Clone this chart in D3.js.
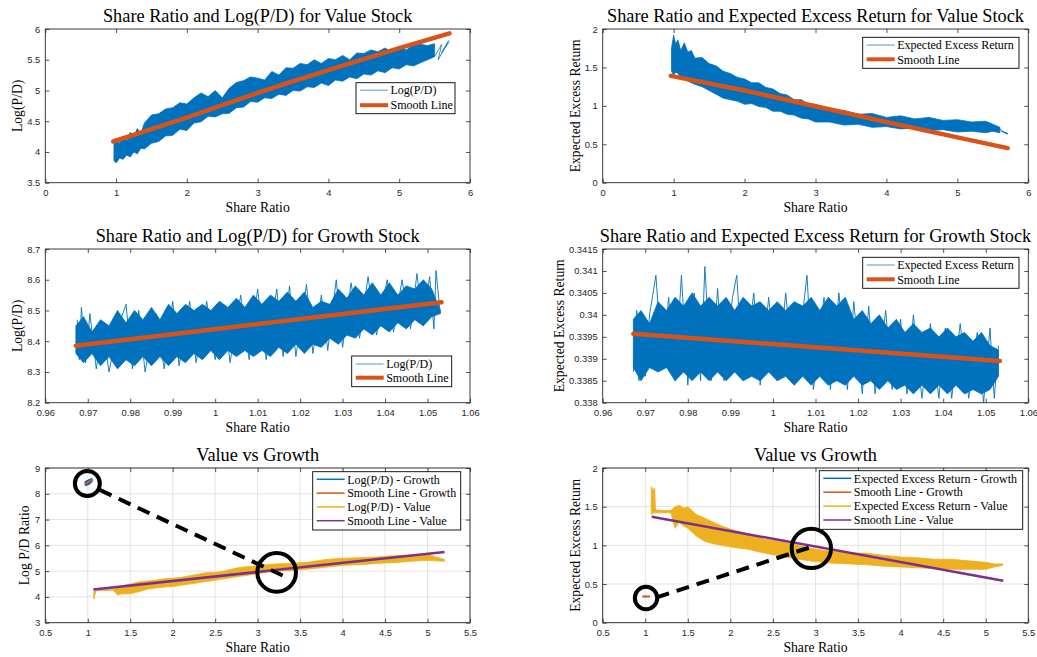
<!DOCTYPE html>
<html>
<head>
<meta charset="utf-8">
<script src="https://cdn.jsdelivr.net/npm/d3@7"></script>
<style>
body { margin: 0; background: #fff; }
svg { display: block; }
.tick text { font-family: "Liberation Sans", Arial, sans-serif; font-size: 9.4px; fill: #262626; }
.tick line { stroke: #262626; stroke-width: 0.8; }
.serif { font-family: "Liberation Serif", "Times New Roman", serif; fill: #000; }
</style>
</head>
<body>
<svg id="chart" width="1037" height="657"></svg>
<script>
// ---- data ----

// value stock, Log(P/D) band (top left)
const valPdX  = [0.97,1.0,1.05,1.1,1.15,1.2,1.25,1.3,1.35,1.4,1.5,1.6,1.7,1.8,1.9,2.0,2.1,2.2,2.3,2.4,2.5,2.6,2.7,2.8,2.9,3.0,3.1,3.2,3.3,3.4,3.5,3.6,3.7,3.8,3.9,4.0,4.1,4.2,4.3,4.4,4.5,4.6,4.7,4.8,4.9,5.0,5.1,5.2,5.3,5.4,5.5];
const valPdHi = [4.12,4.22,4.14,4.26,4.18,4.32,4.25,4.38,4.3,4.47,4.6,4.62,4.7,4.72,4.8,4.78,4.88,4.96,4.9,5.0,4.88,5.04,5.13,5.16,5.22,5.2,5.17,5.31,5.25,5.37,5.36,5.44,5.42,5.5,5.44,5.52,5.5,5.57,5.5,5.61,5.6,5.66,5.63,5.69,5.62,5.72,5.66,5.74,5.75,5.73,5.76];
const valPdLo = [3.86,3.82,3.9,3.88,3.95,3.92,4.0,3.97,4.06,4.05,4.14,4.17,4.26,4.27,4.37,4.35,4.47,4.49,4.58,4.57,4.62,4.63,4.72,4.73,4.82,4.81,4.88,4.87,4.94,4.92,5.0,4.99,5.06,5.05,5.12,5.08,5.17,5.15,5.22,5.19,5.27,5.25,5.32,5.29,5.37,5.35,5.42,5.4,5.45,5.5,5.55];
const valPdTail = [[5.5,5.55],[5.6,5.75],[5.55,5.5],[5.7,5.81],[5.6,5.62],[5.7,5.78]];
const valPdSmooth = [[0.96,4.17],[1.5,4.37],[2,4.56],[2.5,4.76],[3,4.96],[3.5,5.15],[4,5.33],[4.5,5.51],[5,5.69],[5.71,5.93]];

// value stock, expected excess return band (top right)
const valErX  = [0.97,1.0,1.03,1.06,1.1,1.15,1.2,1.25,1.3,1.4,1.5,1.6,1.7,1.8,1.9,2.0,2.1,2.2,2.3,2.4,2.5,2.6,2.7,2.8,2.9,3.0,3.2,3.4,3.6,3.8,4.0,4.2,4.4,4.6,4.8,5.0,5.2,5.4,5.5,5.6];
const valErHi = [1.75,1.92,1.8,1.86,1.72,1.82,1.7,1.72,1.62,1.63,1.55,1.52,1.45,1.42,1.37,1.35,1.3,1.3,1.24,1.22,1.16,1.14,1.08,1.08,1.02,1.02,0.95,0.94,0.89,0.9,0.85,0.87,0.83,0.85,0.81,0.82,0.79,0.8,0.76,0.72];
const valErLo = [1.45,1.4,1.44,1.42,1.38,1.36,1.32,1.3,1.28,1.25,1.2,1.15,1.1,1.08,1.06,1.02,1.03,0.99,0.98,0.93,0.93,0.89,0.88,0.84,0.83,0.79,0.79,0.75,0.76,0.72,0.73,0.7,0.71,0.68,0.69,0.66,0.67,0.65,0.67,0.65];
const valErTail = [[5.6,0.7],[5.65,0.66],[5.71,0.64],[5.62,0.67],[5.71,0.63]];
const valErSmooth = [[0.96,1.39],[2,1.2],[3,0.995],[4,0.79],[5,0.59],[5.71,0.45]];

// growth stock (middle row), shared x grid
const grwX = [0.9672,0.969,0.971,0.973,0.975,0.977,0.979,0.981,0.983,0.985,0.987,0.989,0.991,0.993,0.995,0.997,0.999,1.001,1.003,1.005,1.007,1.009,1.011,1.013,1.015,1.017,1.019,1.021,1.023,1.025,1.027,1.029,1.031,1.033,1.035,1.037,1.039,1.041,1.043,1.045,1.047,1.049,1.051,1.053];
const grwPdHi = [8.45,8.48,8.43,8.47,8.45,8.5,8.46,8.5,8.47,8.51,8.47,8.52,8.49,8.52,8.5,8.52,8.5,8.53,8.51,8.54,8.51,8.55,8.52,8.55,8.53,8.56,8.53,8.56,8.51,8.53,8.52,8.57,8.54,8.58,8.55,8.59,8.55,8.59,8.55,8.58,8.57,8.6,8.57,8.5];
const grwPdLo = [8.36,8.33,8.36,8.32,8.35,8.31,8.34,8.32,8.35,8.32,8.35,8.32,8.35,8.33,8.36,8.34,8.37,8.34,8.37,8.35,8.37,8.35,8.37,8.35,8.38,8.36,8.39,8.36,8.39,8.38,8.41,8.39,8.42,8.41,8.44,8.42,8.45,8.43,8.46,8.44,8.47,8.45,8.48,8.49];
const grwPdTrace = [[0.9675,8.47],[0.968,8.34],[0.9685,8.51],[0.9695,8.33],[0.9705,8.49],[0.972,8.31],[0.9735,8.45],[0.975,8.3],[0.977,8.44],[0.979,8.52],[0.9805,8.31],[0.982,8.5],[0.9835,8.3],[0.986,8.49],[0.988,8.31],[0.99,8.53],[0.9915,8.32],[0.994,8.53],[0.9955,8.33],[0.998,8.53],[1.0,8.34],[1.002,8.52],[1.0035,8.33],[1.006,8.55],[1.008,8.34],[1.01,8.57],[1.012,8.34],[1.0145,8.57],[1.016,8.35],[1.0175,8.58],[1.019,8.35],[1.0215,8.585],[1.023,8.36],[1.025,8.55],[1.0265,8.37],[1.0285,8.6],[1.03,8.38],[1.032,8.59],[1.034,8.41],[1.036,8.61],[1.038,8.42],[1.0405,8.6],[1.042,8.43],[1.044,8.6],[1.046,8.44],[1.0475,8.62],[1.049,8.45],[1.0505,8.61],[1.0515,8.44],[1.052,8.63],[1.053,8.49]];
const grwPdSmooth = [[0.9672,8.385],[1.0533,8.527]];

const grwErHi = [0.3399,0.3401,0.3398,0.3403,0.3401,0.3404,0.3402,0.3405,0.3402,0.3404,0.3402,0.3404,0.3401,0.3404,0.3402,0.3403,0.3401,0.3403,0.3401,0.3403,0.3402,0.3404,0.3401,0.3404,0.3402,0.3404,0.3399,0.3401,0.3398,0.34,0.3397,0.3399,0.3396,0.3398,0.3396,0.3397,0.3395,0.3397,0.3395,0.3396,0.3394,0.3396,0.3393,0.3392];
const grwErLo = [0.3388,0.3385,0.3388,0.3387,0.3388,0.3385,0.3387,0.3385,0.3387,0.3385,0.3387,0.3385,0.3387,0.3385,0.3386,0.3385,0.3387,0.3385,0.3386,0.3384,0.3386,0.3384,0.3386,0.3384,0.3385,0.3384,0.3386,0.3384,0.3385,0.3383,0.3385,0.3383,0.3384,0.3382,0.3384,0.3382,0.3384,0.3382,0.3384,0.3382,0.3383,0.3382,0.3383,0.3386];
const grwErTrace = [[0.9672,0.3387],[0.968,0.3401],[0.9685,0.3385],[0.9695,0.34],[0.97,0.3386],[0.971,0.34],[0.9725,0.3409],[0.974,0.3388],[0.9755,0.3404],[0.977,0.3385],[0.9785,0.3409],[0.98,0.3384],[0.9815,0.3405],[0.983,0.3385],[0.984,0.3411],[0.9855,0.3385],[0.987,0.3406],[0.9885,0.3385],[0.9905,0.3404],[0.9915,0.3409],[0.993,0.3385],[0.9955,0.3405],[0.997,0.3384],[0.999,0.3404],[1.001,0.3385],[1.003,0.3405],[1.005,0.3384],[1.008,0.3409],[1.0095,0.3383],[1.012,0.3404],[1.0135,0.3383],[1.0155,0.3405],[1.0175,0.3383],[1.019,0.3403],[1.021,0.3382],[1.0225,0.3402],[1.024,0.3382],[1.0265,0.3401],[1.028,0.3383],[1.03,0.3399],[1.0315,0.3382],[1.033,0.34],[1.035,0.3381],[1.037,0.3398],[1.039,0.3381],[1.0405,0.3397],[1.042,0.3381],[1.044,0.3398],[1.046,0.3381],[1.048,0.3396],[1.0495,0.338],[1.051,0.3397],[1.052,0.3381],[1.053,0.3393]];
const grwErSmooth = [[0.9672,0.33957],[1.0533,0.33895]];

// value vs growth (bottom row), value series
const vgPdX  = [1.07,1.1,1.2,1.3,1.35,1.4,1.5,1.6,1.7,1.8,1.9,2.0,2.1,2.2,2.3,2.4,2.5,2.6,2.7,2.8,2.9,3.0,3.2,3.4,3.6,3.8,4.0,4.2,4.4,4.6,4.8,5.0,5.1,5.2];
const vgPdHi = [4.2,4.28,4.28,4.29,4.4,4.42,4.5,4.58,4.62,4.65,4.7,4.72,4.76,4.82,4.88,4.95,4.95,5.0,5.08,5.15,5.18,5.22,5.28,5.3,5.35,5.45,5.5,5.52,5.55,5.6,5.62,5.65,5.55,5.45];
const vgPdLo = [3.92,4.25,4.25,4.26,4.07,4.12,4.12,4.2,4.3,4.35,4.38,4.4,4.45,4.5,4.55,4.6,4.65,4.7,4.75,4.8,4.85,4.9,5.0,5.02,5.08,5.15,5.22,5.25,5.3,5.33,5.38,5.42,5.4,5.38];
const vgPdSmooth = [[1.065,4.29],[5.2,5.74]];

const vgErX  = [1.07,1.09,1.11,1.12,1.2,1.3,1.35,1.4,1.45,1.5,1.6,1.7,1.8,1.9,2.0,2.2,2.4,2.6,2.8,3.0,3.2,3.4,3.6,3.8,4.0,4.2,4.4,4.6,4.8,5.0,5.1,5.2];
const vgErHi = [1.76,1.72,1.74,1.46,1.45,1.45,1.5,1.52,1.48,1.5,1.4,1.35,1.3,1.25,1.21,1.15,1.08,1.05,1.0,0.95,0.92,0.9,0.9,0.87,0.85,0.84,0.82,0.82,0.8,0.78,0.76,0.76];
const vgErLo = [1.4,1.42,1.42,1.42,1.42,1.42,1.22,1.3,1.25,1.22,1.12,1.05,1.02,1.0,0.98,0.95,0.9,0.86,0.82,0.79,0.77,0.76,0.75,0.73,0.72,0.71,0.7,0.69,0.69,0.69,0.72,0.74];
const vgErSmooth = [[1.076,1.37],[5.206,0.543]];

// annotation marks (circle centres, arrow ends) in data units
const vgPdMarks = [[0.995,8.4],[3.224,4.95]];
const vgPdArrow = [[1.14,8.15],[3.34,4.76]];
const vgErMarks = [[1.009,0.319],[2.951,0.961]];
const vgErArrow = [[1.134,0.328],[2.982,0.991]];

// tick labels
const ticksX6   = [0,1,2,3,4,5,6];
const ticksPdV  = [3.5,4,4.5,5,5.5,6];
const ticksErV  = [0,0.5,1,1.5,2];
const ticksXG   = [0.96,0.97,0.98,0.99,1,1.01,1.02,1.03,1.04,1.05,1.06];
const ticksPdG  = [8.2,8.3,8.4,8.5,8.6,8.7];
const ticksErG  = [0.338,0.3385,0.339,0.3395,0.34,0.3405,0.341,0.3415];
const ticksXVG  = [0.5,1,1.5,2,2.5,3,3.5,4,4.5,5,5.5];
const ticksPdVG = [3,4,5,6,7,8,9];

const titles = [
    'Share Ratio and Log(P/D) for Value Stock',
    'Share Ratio and Expected Excess Return for Value Stock',
    'Share Ratio and Log(P/D) for Growth Stock',
    'Share Ratio and Expected Excess Return for Growth Stock',
    'Value vs Growth',
    'Value vs Growth'
];
const yLabels = ['Log(P/D)', 'Expected Excess Return', 'Log(P/D)', 'Expected Excess Return', 'Log P/D Ratio', 'Expected Excess Return'];
const xLabel = 'Share Ratio';
const legendPd  = ['Log(P/D)', 'Smooth Line'];
const legendEr  = ['Expected Excess Return', 'Smooth Line'];
const legendVgPd = ['Log(P/D) - Growth', 'Smooth Line - Growth', 'Log(P/D) - Value', 'Smooth Line - Value'];
const legendVgEr = ['Expected Excess Return - Growth', 'Smooth Line - Growth', 'Expected Excess Return - Value', 'Smooth Line - Value'];

// ---- drawing ----
const BLUE = '#0072BD', ORANGE = '#D95319', YELLOW = '#EDB120', PURPLE = '#7E2F8E';
const svg = d3.select('#chart');

const COLS = [[45.3, 470], [602.7, 1028.3]];
const ROWS = [[29, 182.7], [249, 402.7], [468, 622.7]];

function band(xs, hi, lo) {
    return xs.map((x, i) => ({ x: x, hi: hi[i], lo: lo[i] }));
}

function drawPanel(p) {
    const [L, R] = COLS[p.col];
    const [T, B] = ROWS[p.row];
    const x = d3.scaleLinear().domain(p.xDomain).range([L, R]);
    const y = d3.scaleLinear().domain(p.yDomain).range([B, T]);
    const g = svg.append('g');

    // light grid for bottom row
    if (p.grid) {
        g.append('g').selectAll('line').data(p.xTicks).enter().append('line')
            .attr('x1', d => x(d)).attr('x2', d => x(d)).attr('y1', T).attr('y2', B)
            .style('stroke', '#e3e3e3').style('stroke-width', 1);
        g.append('g').selectAll('line').data(p.yTicks).enter().append('line')
            .attr('y1', d => y(d)).attr('y2', d => y(d)).attr('x1', L).attr('x2', R)
            .style('stroke', '#e3e3e3').style('stroke-width', 1);
    }

    const area = d3.area().x(d => x(d.x)).y0(d => y(d.lo)).y1(d => y(d.hi));
    const line = d3.line().x(d => x(d[0])).y(d => y(d[1]));

    p.series.forEach(s => {
        if (s.band) {
            g.append('path').datum(s.band)
                .attr('d', area)
                .style('fill', s.color)
                .style('stroke', s.color)
                .style('stroke-width', 0.8);
        }
        if (s.pts) {
            g.append('path').datum(s.pts)
                .attr('d', line)
                .style('fill', 'none')
                .style('stroke', s.color)
                .style('stroke-width', s.width)
                .style('stroke-linecap', s.cap || 'butt')
                .style('stroke-dasharray', s.dash || null);
        }
    });

    // circle marks
    if (p.marks) {
        g.append('g').selectAll('circle').data(p.marks).enter().append('circle')
            .attr('cx', d => x(d[0])).attr('cy', d => y(d[1]))
            .attr('r', (d, i) => p.markR[i])
            .style('fill', 'none').style('stroke', '#000').style('stroke-width', 4);
    }

    // axes, ticks inward on all four sides
    const fmt = d => String(d);
    const ax = [
        g.append('g').attr('transform', `translate(0,${B})`)
            .call(d3.axisBottom(x).tickValues(p.xTicks).tickSizeInner(-4).tickSizeOuter(0).tickPadding(7).tickFormat(fmt)),
        g.append('g').attr('transform', `translate(${L},0)`)
            .call(d3.axisLeft(y).tickValues(p.yTicks).tickSizeInner(-4).tickSizeOuter(0).tickPadding(5).tickFormat(fmt)),
        g.append('g').attr('transform', `translate(0,${T})`)
            .call(d3.axisTop(x).tickValues(p.xTicks).tickSizeInner(-4).tickSizeOuter(0).tickFormat('')),
        g.append('g').attr('transform', `translate(${R},0)`)
            .call(d3.axisRight(y).tickValues(p.yTicks).tickSizeInner(-4).tickSizeOuter(0).tickFormat(''))
    ];
    ax.forEach(a => a.select('.domain').remove());
    ax[0].selectAll('text').attr('dy', '0.71em');

    g.append('rect')
        .attr('x', L).attr('y', T).attr('width', R - L).attr('height', B - T)
        .style('fill', 'none').style('stroke', '#262626').style('stroke-width', 0.9);

    // texts
    g.append('text').attr('class', 'serif')
        .attr('x', (L + R) / 2).attr('y', T - 7.5)
        .attr('text-anchor', 'middle').style('font-size', '18.3px')
        .text(p.title);
    g.append('text').attr('class', 'serif')
        .attr('x', (L + R) / 2).attr('y', B + 29.6)
        .attr('text-anchor', 'middle').style('font-size', '13.7px')
        .text(xLabel);
    g.append('text').attr('class', 'serif')
        .attr('transform', `translate(${L - p.yLabelOff},${(T + B) / 2}) rotate(-90)`)
        .attr('text-anchor', 'middle').style('font-size', '13.7px')
        .text(p.yLabel);

    // legend
    const lg = p.legend;
    const lgG = g.append('g');
    lgG.append('rect')
        .attr('x', lg.x).attr('y', lg.y).attr('width', lg.w).attr('height', lg.h)
        .style('fill', '#fff').style('stroke', '#000').style('stroke-width', 0.9);
    lg.items.forEach((it, i) => {
        const cy = lg.y + lg.first + i * lg.step;
        lgG.append('line')
            .attr('x1', lg.x + 4).attr('x2', lg.x + 32).attr('y1', cy).attr('y2', cy)
            .style('stroke', it.color).style('stroke-width', it.width).style('opacity', it.op || 1);
        lgG.append('text').attr('class', 'serif')
            .attr('x', lg.x + 34.5).attr('y', cy).attr('dy', '0.35em')
            .style('font-size', '12px')
            .text(it.label);
    });
}

const panels = [
    {
        col: 0, row: 0, xDomain: [0, 6], yDomain: [3.5, 6], xTicks: ticksX6, yTicks: ticksPdV,
        title: titles[0], yLabel: yLabels[0], yLabelOff: 23,
        series: [
            { band: band(valPdX, valPdHi, valPdLo), color: BLUE },
            { pts: valPdTail, color: BLUE, width: 0.8 },
            { pts: valPdSmooth, color: ORANGE, width: 4.5, cap: 'round' }
        ],
        legend: { x: 356, y: 82.7, w: 99, h: 31, first: 7.5, step: 15,
            items: [{ label: legendPd[0], color: BLUE, width: 1, op: 0.7 }, { label: legendPd[1], color: ORANGE, width: 4 }] }
    },
    {
        col: 1, row: 0, xDomain: [0, 6], yDomain: [0, 2], xTicks: ticksX6, yTicks: ticksErV,
        title: titles[1], yLabel: yLabels[1], yLabelOff: 23,
        series: [
            { band: band(valErX, valErHi, valErLo), color: BLUE },
            { pts: valErTail, color: BLUE, width: 0.8 },
            { pts: valErSmooth, color: ORANGE, width: 4.5, cap: 'round' }
        ],
        legend: { x: 862.7, y: 37.3, w: 156.3, h: 31, first: 7.7, step: 14.3,
            items: [{ label: legendEr[0], color: BLUE, width: 1, op: 0.7 }, { label: legendEr[1], color: ORANGE, width: 4 }] }
    },
    {
        col: 0, row: 1, xDomain: [0.96, 1.06], yDomain: [8.2, 8.7], xTicks: ticksXG, yTicks: ticksPdG,
        title: titles[2], yLabel: yLabels[2], yLabelOff: 23,
        series: [
            { band: band(grwX, grwPdHi, grwPdLo), color: BLUE },
            { pts: grwPdTrace, color: BLUE, width: 0.9 },
            { pts: grwPdSmooth, color: ORANGE, width: 4.5, cap: 'round' }
        ],
        legend: { x: 351.7, y: 356, w: 100, h: 30.7, first: 8, step: 13.7,
            items: [{ label: legendPd[0], color: BLUE, width: 1, op: 0.7 }, { label: legendPd[1], color: ORANGE, width: 4 }] }
    },
    {
        col: 1, row: 1, xDomain: [0.96, 1.06], yDomain: [0.338, 0.3415], xTicks: ticksXG, yTicks: ticksErG,
        title: titles[3], yLabel: yLabels[3], yLabelOff: 39,
        series: [
            { band: band(grwX, grwErHi, grwErLo), color: BLUE },
            { pts: grwErTrace, color: BLUE, width: 0.9 },
            { pts: grwErSmooth, color: ORANGE, width: 4.5, cap: 'round' }
        ],
        legend: { x: 862.7, y: 257.3, w: 156.3, h: 31, first: 7.7, step: 14.3,
            items: [{ label: legendEr[0], color: BLUE, width: 1, op: 0.7 }, { label: legendEr[1], color: ORANGE, width: 4 }] }
    },
    {
        col: 0, row: 2, xDomain: [0.5, 5.5], yDomain: [3, 9], xTicks: ticksXVG, yTicks: ticksPdVG, grid: true,
        title: titles[4], yLabel: yLabels[4], yLabelOff: 16,
        series: [
            { band: band(grwX, grwPdHi, grwPdLo), color: BLUE },
            { pts: grwPdSmooth, color: ORANGE, width: 2 },
            { band: band(vgPdX, vgPdHi, vgPdLo), color: YELLOW },
            { pts: vgPdSmooth, color: PURPLE, width: 2.5 },
            { pts: vgPdArrow, color: '#000', width: 4, dash: '13,8' }
        ],
        marks: vgPdMarks, markR: [12.5, 19.3],
        legend: { x: 312.7, y: 471.7, w: 148, h: 58.3, first: 7.6, step: 13.8,
            items: [
                { label: legendVgPd[0], color: BLUE, width: 1.5 },
                { label: legendVgPd[1], color: ORANGE, width: 1.5 },
                { label: legendVgPd[2], color: YELLOW, width: 1.5 },
                { label: legendVgPd[3], color: PURPLE, width: 1.5 }
            ] }
    },
    {
        col: 1, row: 2, xDomain: [0.5, 5.5], yDomain: [0, 2], xTicks: ticksXVG, yTicks: ticksErV, grid: true,
        title: titles[5], yLabel: yLabels[5], yLabelOff: 23,
        series: [
            { band: band(grwX, grwErHi, grwErLo), color: BLUE },
            { pts: grwErSmooth, color: ORANGE, width: 2 },
            { band: band(vgErX, vgErHi, vgErLo), color: YELLOW },
            { pts: vgErSmooth, color: PURPLE, width: 2.5 },
            { pts: vgErArrow, color: '#000', width: 4, dash: '13,8' }
        ],
        marks: vgErMarks, markR: [11.2, 19.7],
        legend: { x: 819.3, y: 470.7, w: 203.4, h: 58.6, first: 7.6, step: 13.9,
            items: [
                { label: legendVgEr[0], color: BLUE, width: 1.5 },
                { label: legendVgEr[1], color: ORANGE, width: 1.5 },
                { label: legendVgEr[2], color: YELLOW, width: 1.5 },
                { label: legendVgEr[3], color: PURPLE, width: 1.5 }
            ] }
    }
];

panels.forEach(drawPanel);
</script>
</body>
</html>
